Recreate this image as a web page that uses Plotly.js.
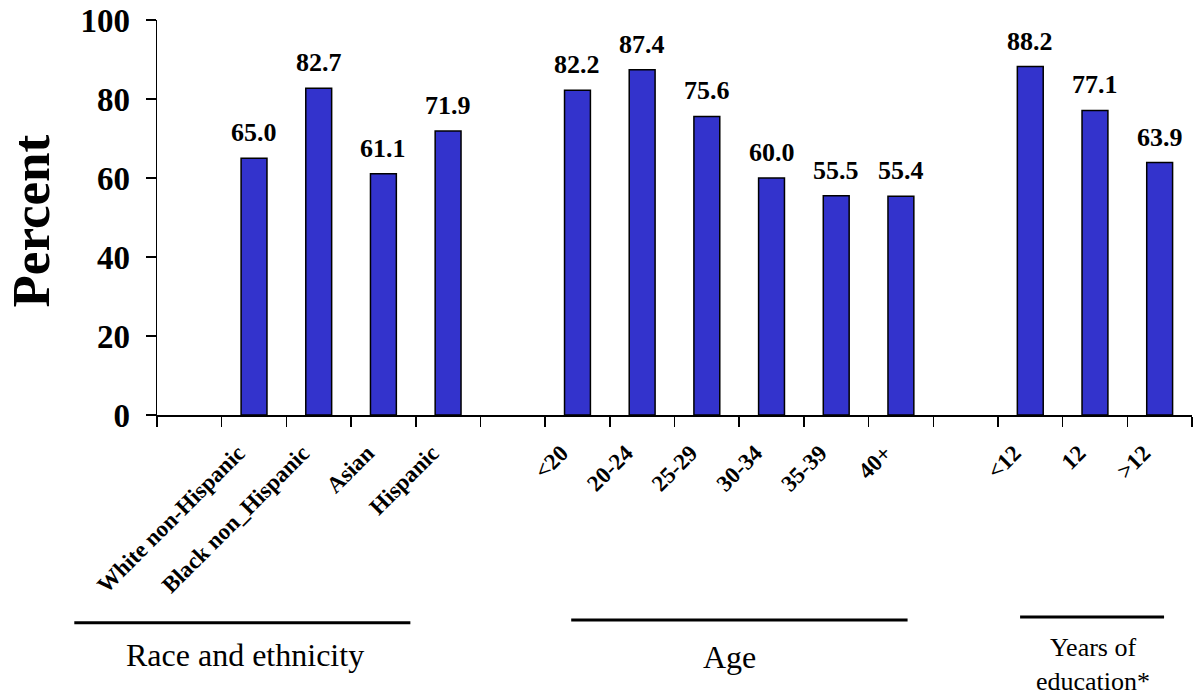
<!DOCTYPE html>
<html>
<head>
<meta charset="utf-8">
<script src="https://cdn.plot.ly/plotly-3.0.1.min.js"></script>
<style>
  html, body { margin: 0; padding: 0; background: #ffffff; }
  #chart { width: 1195px; height: 700px; }
</style>
</head>
<body>
<div id="chart"></div>
<script>
// Category slots (blank slots separate the groups)
const categories = [" ", "White non-Hispanic", "Black non_Hispanic", "Asian", "Hispanic",
                    "  ", "<20", "20-24", "25-29", "30-34", "35-39", "40+",
                    "   ", "<12", "12", ">12"];
const percentValues = [null, 65.0, 82.7, 61.1, 71.9,
                       null, 82.2, 87.4, 75.6, 60.0, 55.5, 55.4,
                       null, 88.2, 77.1, 63.9];
const yTicks = [0, 20, 40, 60, 80, 100];

const serif = "Liberation Serif, Times New Roman, serif";

const valueAnnotations = [];
categories.forEach(function (c, i) {
  const v = percentValues[i];
  if (v === null) return;
  valueAnnotations.push({
    x: i, y: v, xref: "x", yref: "y",
    text: v.toFixed(1),
    showarrow: false,
    yanchor: "bottom",
    yshift: 9,
    font: { family: serif, size: 26, color: "#000", weight: "bold" }
  });
});

const groupAnnotations = [
  { text: "Race and ethnicity", x: 0.0855, y: -0.6076, size: 32 },
  { text: "Age", x: 0.5529, y: -0.6127, size: 32 },
  { text: "Years of<br>education*", x: 0.9044, y: -0.6329, size: 26 }
].map(function (a) {
  return {
    text: a.text, x: a.x, y: a.y, xref: "paper", yref: "paper",
    xanchor: "center", yanchor: "middle", showarrow: false,
    font: { family: serif, size: a.size, color: "#000" }
  };
});

const lineShape = function (x0, x1, y) {
  return { type: "line", xref: "paper", yref: "paper", x0: x0, x1: x1, y0: y, y1: y,
           line: { color: "#000", width: 3 } };
};

const data = [{
  type: "bar",
  x: categories,
  y: percentValues,
  width: 0.4,
  marker: { color: "#3333CC", line: { color: "#000", width: 1.5 } },
  hoverinfo: "skip"
}];

const layout = {
  width: 1195, height: 700,
  margin: { l: 157, r: 3, t: 20, b: 285 },
  paper_bgcolor: "#fff", plot_bgcolor: "#fff",
  showlegend: false,
  bargap: 0.6,
  xaxis: {
    type: "category",
    categoryorder: "array",
    categoryarray: categories,
    range: [-0.5, categories.length - 0.5],
    tickson: "boundaries",
    ticks: "outside", ticklen: 10, tickwidth: 1.5, tickcolor: "#000",
    showline: true, linecolor: "#000", linewidth: 1.5,
    showgrid: false, zeroline: false,
    tickangle: -45,
    ticklabelstandoff: 14,
    ticklabelshift: -16,
    tickfont: { family: serif, size: 23, color: "#000", weight: "bold" },
    fixedrange: true
  },
  yaxis: {
    range: [0, 100],
    tickvals: yTicks,
    ticktext: yTicks.map(String),
    ticks: "outside", ticklen: 10, tickwidth: 1.5, tickcolor: "#000",
    showline: true, linecolor: "#000", linewidth: 1.5,
    showgrid: false, zeroline: false,
    ticklabelstandoff: 9,
    tickfont: { family: serif, size: 33, color: "#000", weight: "bold" },
    fixedrange: true
  },
  annotations: valueAnnotations.concat(groupAnnotations).concat([{
    text: "Percent", textangle: -90,
    x: 0, xref: "paper", xanchor: "center", xshift: -127,
    y: 0.5, yref: "paper", yanchor: "middle", yshift: -4,
    showarrow: false,
    font: { family: serif, size: 53, color: "#000", weight: "bold" }
  }]),
  shapes: [
    lineShape(-0.0799, 0.2448, -0.5258),
    lineShape(0.4002, 0.7252, -0.5190),
    lineShape(0.8339, 0.9730, -0.5114)
  ]
};

Plotly.newPlot("chart", data, layout, { displayModeBar: false, staticPlot: true });
</script>
</body>
</html>
